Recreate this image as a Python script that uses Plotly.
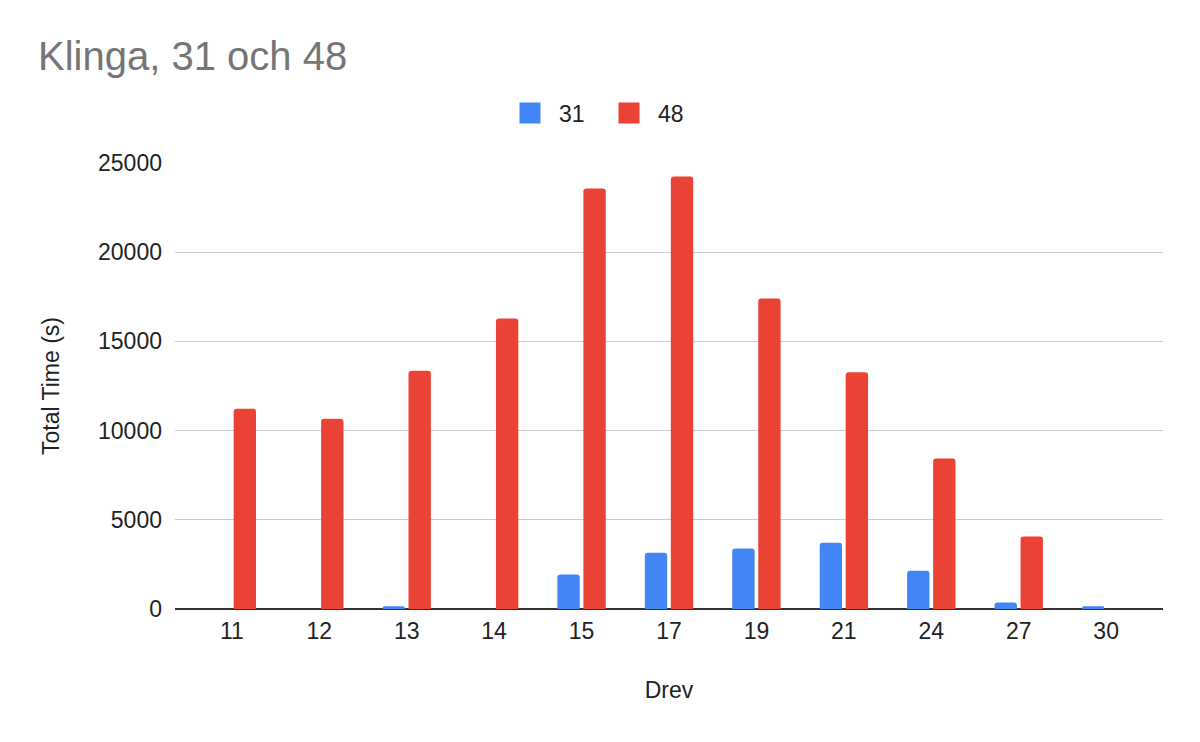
import plotly.graph_objects as go

categories = ["11", "12", "13", "14", "15", "17", "19", "21", "24", "27", "30"]
series_31 = [0, 0, 150, 0, 1930, 3160, 3390, 3720, 2150, 360, 150]
series_48 = [11230, 10670, 13360, 16280, 23570, 24240, 17400, 13270, 8430, 4060, 0]
y_ticks = [0, 5000, 10000, 15000, 20000, 25000]
names = ["31", "48"]
colors = ["#4285F4", "#EA4335"]

FONT = "Arial, 'Liberation Sans', sans-serif"
TXT = "#222222"

fig = go.Figure()
for name, vals, col in zip(names, [series_31, series_48], colors):
    fig.add_trace(go.Bar(x=categories, y=vals, name=name, legendgroup=name, showlegend=False,
                         marker=dict(color=col, line=dict(width=0))))
for name, col in zip(names, colors):
    fig.add_trace(go.Scatter(x=[None], y=[None], name=name, legendgroup=name, mode="markers",
                             marker=dict(symbol="square", size=16, color=col,
                                         line=dict(color=col, width=5))))

fig.update_layout(
    width=1200, height=742,
    paper_bgcolor="white", plot_bgcolor="white",
    margin=dict(l=167, r=45, t=155, b=141, autoexpand=False),
    font=dict(family=FONT, size=23, color=TXT),
    title=dict(text="Klinga, 31 och 48", x=30/1200, xanchor="left", xref="container",
               y=1-62/742, yanchor="bottom", yref="container",
               font=dict(family=FONT, size=40, color="#757575")),
    barmode="group", bargap=0.405, bargroupgap=0.14, barcornerradius=3,
    showlegend=True,
    legend=dict(orientation="h", x=0.5 - 8/1200, xanchor="center", xref="container",
                y=1-105/742, yanchor="middle", yref="container",
                font=dict(family=FONT, size=23, color=TXT),
                itemwidth=48, entrywidth=36, entrywidthmode="pixels",
                itemclick=False, itemdoubleclick=False, traceorder="normal"),
    xaxis=dict(type="category", range=[-0.65, 10.65], showgrid=False, showline=False,
               zeroline=False, ticks="", tickfont=dict(size=23, color=TXT), ticklabelstandoff=6,
               title=dict(text="Drev", font=dict(size=23, color=TXT), standoff=38)),
    yaxis=dict(range=[0, 25000], tickvals=y_ticks, tickformat="d", showgrid=True,
               gridcolor="#cccccc", gridwidth=1,
               zeroline=True, zerolinecolor="#333333", zerolinewidth=2, showline=False, ticks="",
               tickfont=dict(size=23, color=TXT), ticklabelstandoff=12,
               title=dict(text="Total Time (s)", font=dict(size=23, color=TXT), standoff=31)),
)

fig.write_html("out.html")
